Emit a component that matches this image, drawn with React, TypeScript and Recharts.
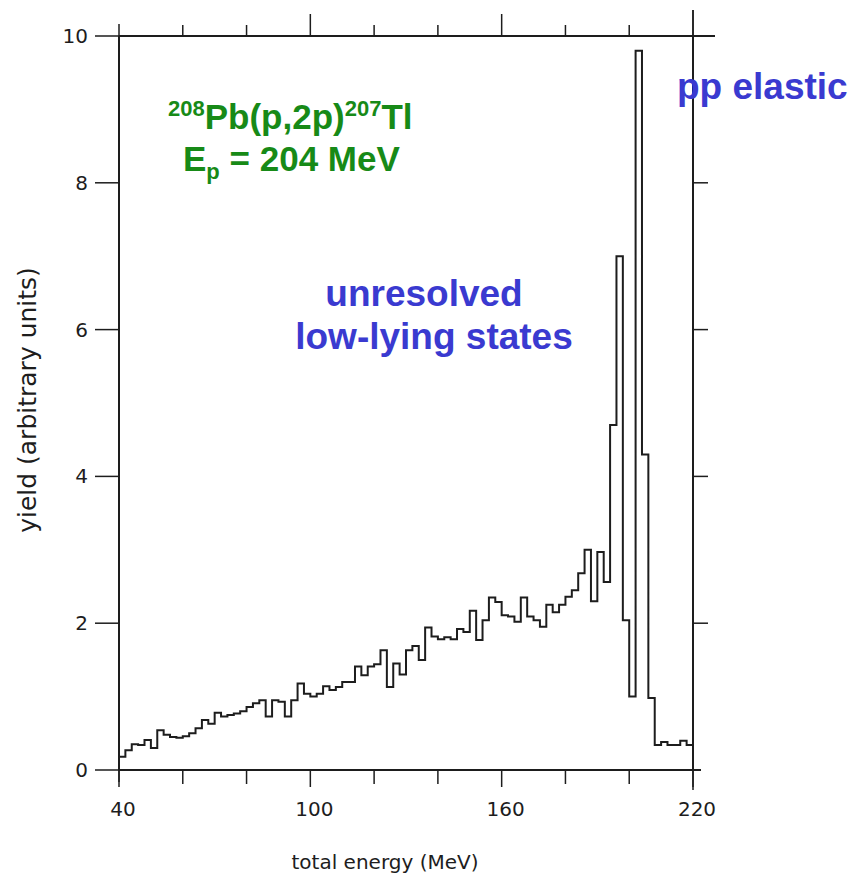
import { ComposedChart, Line, XAxis, YAxis } from "recharts";

// energy axis (MeV)
const ENERGY_TICKS = [40, 60, 80, 100, 120, 140, 160, 180, 200, 220];
const LABELED_ENERGIES = [40, 100, 160, 220];
// yield axis (arbitrary units)
const YIELD_TICKS = [0, 2, 4, 6, 8, 10];

// histogram: 2 MeV bins starting at 40 MeV
const FIRST_BIN = 40;
const BIN_WIDTH = 2;
const yields = [
  0.18, 0.27, 0.35, 0.34, 0.41, 0.30, 0.54, 0.48, 0.45, 0.44, // 40-58
  0.46, 0.50, 0.57, 0.68, 0.63, 0.78, 0.73, 0.75, 0.77, 0.80, // 60-78
  0.86, 0.91, 0.95, 0.73, 0.95, 0.93, 0.73, 0.95, 1.18, 1.04, // 80-98
  1.00, 1.04, 1.14, 1.09, 1.13, 1.20, 1.20, 1.41, 1.29, 1.41, // 100-118
  1.44, 1.63, 1.13, 1.45, 1.30, 1.63, 1.69, 1.50, 1.94, 1.82, // 120-138
  1.78, 1.81, 1.78, 1.92, 1.88, 2.17, 1.77, 2.04, 2.35, 2.29, // 140-158
  2.11, 2.09, 2.02, 2.35, 2.09, 2.04, 1.95, 2.25, 2.15, 2.25, // 160-178
  2.36, 2.45, 2.68, 3.00, 2.30, 2.97, 2.56, 4.70, 7.00, 2.04, // 180-198
  1.00, 9.80, 4.30, 0.98, 0.34, 0.38, 0.34, 0.34, 0.40, 0.34, // 200-218
];

const histogram = [
  { energy: FIRST_BIN, value: 0 },
  ...yields.map((v, i) => ({ energy: FIRST_BIN + i * BIN_WIDTH, value: v })),
  { energy: FIRST_BIN + yields.length * BIN_WIDTH, value: yields[yields.length - 1] },
];

const W = 848;
const H = 865;
const INK = "#1d1d1d";
const AXIS_FONT = "'DejaVu Sans', sans-serif";
const NOTE_FONT = "'Liberation Sans', Arial, sans-serif";
const GREEN = "#178a17";
const BLUE = "#3a3ad0";

function BottomTick({ x, y, payload }: any) {
  const v = payload.value;
  const labeled = LABELED_ENERGIES.includes(v);
  return (
    <g>
      <line x1={x} y1={v === 40 ? y - 8 : y} x2={x} y2={y + (labeled ? 17 : 14)} stroke={INK} strokeWidth={1.5} />
      {v === 220 && <line x1={x} y1={y} x2={x + 8} y2={y} stroke={INK} strokeWidth={2} />}
      {labeled && (
        <text x={x + 4} y={y + 46} textAnchor="middle" fontFamily={AXIS_FONT} fontSize={20} fill={INK}>
          {v}
        </text>
      )}
    </g>
  );
}

function TopTick({ x, y, payload }: any) {
  const v = payload.value;
  const tall = LABELED_ENERGIES.includes(v);
  if (v === 40) return <line x1={x} y1={y} x2={x} y2={y - 12} stroke={INK} strokeWidth={1.5} />;
  return (
    <g>
      <line x1={x} y1={y} x2={x} y2={y - (v === 220 ? 26 : tall ? 22 : 11)} stroke={INK} strokeWidth={1.5} />
      {v === 220 && <line x1={x} y1={y} x2={x + 22} y2={y} stroke={INK} strokeWidth={2} />}
    </g>
  );
}

function LeftTick({ x, y, payload }: any) {
  const v = payload.value;
  return (
    <g>
      <line x1={x - 24} y1={y} x2={v === 10 || v === 0 ? x + 6 : x} y2={y} stroke={INK} strokeWidth={1.5} />
      {v === 0 && <line x1={x} y1={y} x2={x} y2={y + 12} stroke={INK} strokeWidth={1.5} />}
      <text x={x - 31} y={y + 7} textAnchor="end" fontFamily={AXIS_FONT} fontSize={20} fill={INK}>
        {v}
      </text>
    </g>
  );
}

function RightTick({ x, y, payload }: any) {
  const v = payload.value;
  if (v === 10) return <line x1={x} y1={y} x2={x} y2={y - 26} stroke={INK} strokeWidth={1.5} />;
  if (v === 0) return <line x1={x} y1={y} x2={x} y2={y + 20} stroke={INK} strokeWidth={1.5} />;
  return <line x1={x} y1={y} x2={x + 15} y2={y} stroke={INK} strokeWidth={1.5} />;
}

function Annotations() {
  return (
    <svg width={W} height={H} style={{ position: "absolute", left: 0, top: 0, pointerEvents: "none" }}>
      <text x={19} y={392} transform="rotate(-90 19 392)" textAnchor="middle" dominantBaseline="central"
        fontFamily={AXIS_FONT} fontSize={25} fill={INK}>
        yield (arbitrary units)
      </text>
      <text x={377} y={861} textAnchor="middle" fontFamily={AXIS_FONT} fontSize={20} fill={INK}>
        total energy (MeV)
      </text>

      <text x={160} y={121} fontFamily={NOTE_FONT} fontWeight="bold" fontSize={35} fill={GREEN}>
        <tspan fontSize={22} dy={-13}>208</tspan>
        <tspan dy={13}>Pb(p,2p)</tspan>
        <tspan fontSize={22} dy={-13}>207</tspan>
        <tspan dy={13}>Tl</tspan>
      </text>
      <text x={175} y={163} fontFamily={NOTE_FONT} fontWeight="bold" fontSize={35} fill={GREEN}>
        <tspan>E</tspan>
        <tspan fontSize={22} dy={8}>p</tspan>
        <tspan dy={-8}> = 204 MeV</tspan>
      </text>

      <text x={416} y={298} textAnchor="middle" fontFamily={NOTE_FONT} fontWeight="bold" fontSize={37} fill={BLUE}>
        unresolved
      </text>
      <text x={426} y={341} textAnchor="middle" fontFamily={NOTE_FONT} fontWeight="bold" fontSize={37} fill={BLUE}>
        low-lying states
      </text>
      <text x={669} y={91} fontFamily={NOTE_FONT} fontWeight="bold" fontSize={37} fill={BLUE}>
        pp elastic
      </text>
    </svg>
  );
}

export default function App() {
  return (
    <div style={{ position: "relative", width: W, height: H, background: "#fff" }}>
      <ComposedChart
        width={W}
        height={H}
        data={histogram}
        margin={{ top: 8, right: 133, bottom: 43, left: 41 }}
      >
        <XAxis
          dataKey="energy"
          type="number"
          domain={[40, 220]}
          ticks={ENERGY_TICKS}
          allowDataOverflow
          height={60}
          tickSize={0}
          tickMargin={0}
          tickLine={false}
          axisLine={{ stroke: INK, strokeWidth: 2 }}
          tick={(p: any) => <BottomTick {...p} />}
        />
        <XAxis
          xAxisId="top"
          orientation="top"
          dataKey="energy"
          type="number"
          domain={[40, 220]}
          ticks={ENERGY_TICKS}
          allowDataOverflow
          height={20}
          tickSize={0}
          tickMargin={0}
          tickLine={false}
          axisLine={{ stroke: INK, strokeWidth: 2 }}
          tick={(p: any) => <TopTick {...p} />}
        />
        <YAxis
          type="number"
          domain={[0, 10]}
          ticks={YIELD_TICKS}
          allowDataOverflow
          width={70}
          tickSize={0}
          tickMargin={0}
          tickLine={false}
          axisLine={{ stroke: INK, strokeWidth: 2 }}
          tick={(p: any) => <LeftTick {...p} />}
        />
        <YAxis
          yAxisId="right"
          orientation="right"
          type="number"
          domain={[0, 10]}
          ticks={YIELD_TICKS}
          allowDataOverflow
          width={30}
          tickSize={0}
          tickMargin={0}
          tickLine={false}
          axisLine={{ stroke: INK, strokeWidth: 2 }}
          tick={(p: any) => <RightTick {...p} />}
        />
        <Line
          dataKey="value"
          type="stepAfter"
          stroke={INK}
          strokeWidth={2}
          dot={false}
          activeDot={false}
          isAnimationActive={false}
        />
      </ComposedChart>
      <Annotations />
    </div>
  );
}
